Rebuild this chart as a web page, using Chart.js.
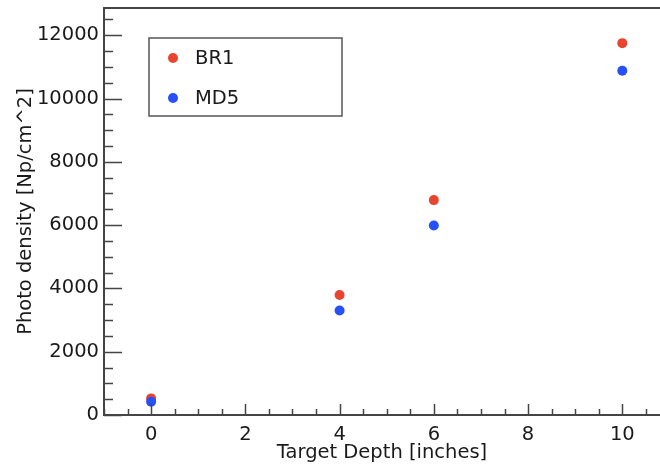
<!DOCTYPE html>
<html lang="en">
<head>
    <meta charset="UTF-8">
    <title>Photo density vs Target Depth</title>
    <script src="https://cdn.jsdelivr.net/npm/chart.js"></script>
    <style>
        body { margin: 0; background: #fff; }
        canvas { display: block; }
    </style>
</head>
<body>
    <canvas id="myChart" width="660" height="470"></canvas>
    <script>
// data
const depths = [0, 4, 6, 10];
const br1 = [525, 3790, 6790, 11750];
const md5 = [420, 3300, 5985, 10880];
const xTicks = [0, 2, 4, 6, 8, 10];
const yTicks = [0, 2000, 4000, 6000, 8000, 10000, 12000];
const seriesNames = ['BR1', 'MD5'];
const seriesColors = ['rgb(233, 68, 48)', 'rgb(40, 80, 248)'];

const FONT = "'DejaVu Sans', 'Liberation Sans', Arial, sans-serif";
const FSIZE = 19.5;
const INK = '#1a1a1a';

function points(ys) {
    return depths.map((d, i) => ({ x: d, y: ys[i] }));
}

// ROOT style frame + inside ticks + legend box
const framePlugin = {
    id: 'frame',
    afterDraw(chart) {
        const ctx = chart.ctx;
        const a = chart.chartArea;
        const xs = chart.scales.x, ys = chart.scales.y;
        ctx.save();
        ctx.strokeStyle = '#444';
        ctx.lineWidth = 2;
        ctx.beginPath();
        ctx.moveTo(a.right, a.top);
        ctx.lineTo(a.left, a.top);
        ctx.lineTo(a.left, a.bottom);
        ctx.lineTo(a.right, a.bottom);
        ctx.stroke();

        ctx.lineWidth = 1.5;
        ctx.beginPath();
        for (let v = xs.min; v <= xs.max + 1e-9; v += 0.5) {
            const px = Math.round(xs.getPixelForValue(v)) + 0.5;
            const len = xTicks.includes(v) ? 11 : 6;
            ctx.moveTo(px, a.bottom);
            ctx.lineTo(px, a.bottom - len);
        }
        for (let v = 0; v <= ys.max; v += 500) {
            const py = Math.round(ys.getPixelForValue(v)) + 0.5;
            const len = yTicks.includes(v) ? 18 : 9;
            ctx.moveTo(a.left, py);
            ctx.lineTo(a.left + len, py);
        }
        ctx.stroke();

        const bx = 149, by = 38, bw = 193, bh = 78;
        ctx.strokeStyle = '#555';
        ctx.lineWidth = 1.5;
        ctx.strokeRect(bx, by, bw, bh);
        ctx.font = FSIZE + 'px ' + FONT;
        ctx.textBaseline = 'middle';
        chart.data.datasets.forEach((ds, i) => {
            const cy = by + 20 + i * 40;
            ctx.fillStyle = ds.backgroundColor;
            ctx.beginPath();
            ctx.arc(bx + 24, cy, 5, 0, Math.PI * 2);
            ctx.fill();
            ctx.fillStyle = INK;
            ctx.fillText(ds.label, bx + 46, cy + 1);
        });
        ctx.restore();
    }
};

const ctx = document.getElementById('myChart').getContext('2d');
new Chart(ctx, {
    type: 'scatter',
    data: {
        datasets: seriesNames.map((name, i) => ({
            label: name,
            data: points(i === 0 ? br1 : md5),
            backgroundColor: seriesColors[i],
            borderWidth: 0,
            pointRadius: 5,
            pointHoverRadius: 5,
            order: i === 0 ? 1 : 0
        }))
    },
    options: {
        responsive: false,
        animation: false,
        layout: { padding: { top: 8, left: 0, right: 0, bottom: 0 }, autoPadding: false },
        plugins: { legend: { display: false }, tooltip: { enabled: false } },
        scales: {
            x: {
                type: 'linear',
                min: -1,
                max: 10.8,
                grid: { display: false, drawTicks: false },
                border: { display: false },
                afterBuildTicks: s => { s.ticks = xTicks.map(v => ({ value: v })); },
                afterFit: s => { s.height = 55; s.paddingLeft = 0; s.paddingRight = 0; },
                ticks: {
                    color: INK, padding: 8, maxRotation: 0,
                    font: { family: FONT, size: FSIZE },
                    callback: v => String(v)
                },
                title: {
                    display: true,
                    text: 'Target Depth [inches]',
                    color: INK,
                    font: { family: FONT, size: FSIZE },
                    padding: { top: 0, bottom: 5 }
                }
            },
            y: {
                type: 'linear',
                min: 0,
                max: 12860,
                grid: { display: false, drawTicks: false },
                border: { display: false },
                afterBuildTicks: s => { s.ticks = yTicks.map(v => ({ value: v })); },
                afterFit: s => { s.width = 104; s.paddingTop = 0; s.paddingBottom = 0; },
                ticks: {
                    color: INK, padding: 5,
                    font: { family: FONT, size: FSIZE },
                    callback: v => String(v)
                },
                title: {
                    display: true,
                    text: 'Photo density [Np/cm^2]',
                    color: INK,
                    font: { family: FONT, size: FSIZE },
                    padding: { top: 14, bottom: 0 }
                }
            }
        }
    },
    plugins: [framePlugin]
});
    </script>
</body>
</html>
